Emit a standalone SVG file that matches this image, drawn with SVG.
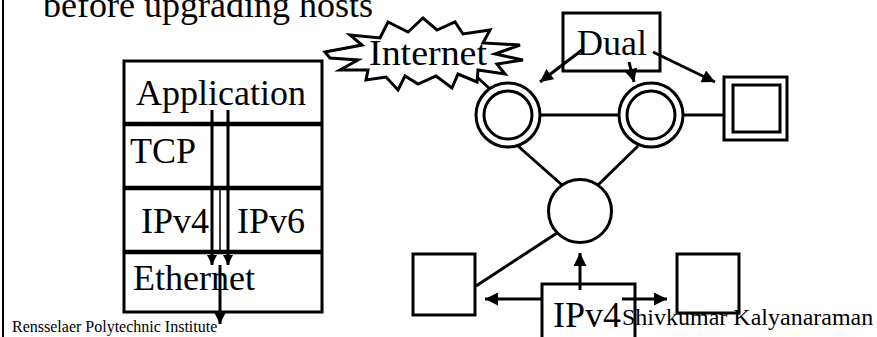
<svg xmlns="http://www.w3.org/2000/svg" width="877" height="337" viewBox="0 0 877 337">
<style>
text{font-family:"Liberation Serif","Times New Roman",serif;fill:#000}
.big{font-size:36px}
.s{fill:#fff;stroke:#000;stroke-width:3}
.ln{stroke:#000;stroke-width:3;fill:none}
.div{stroke:#000;stroke-width:4.5}
</style>
<defs>
<marker id="ah" viewBox="0 0 10 10" refX="10" refY="5" markerWidth="14" markerHeight="13" markerUnits="userSpaceOnUse" orient="auto">
<path d="M0,0 L10,5 L0,10 z" fill="#000"/>
</marker>
<marker id="ahs" viewBox="0 0 10 10" refX="10" refY="5" markerWidth="11" markerHeight="10" markerUnits="userSpaceOnUse" orient="auto">
<path d="M0,0 L10,5 L0,10 z" fill="#000"/>
</marker>
</defs>
<rect width="877" height="337" fill="#fff"/>
<line x1="3" y1="0" x2="3" y2="337" stroke="#000" stroke-width="2"/>
<text class="big" x="43" y="17">before upgrading hosts</text>

<g id="stack">
<rect class="s" x="124" y="61" width="198" height="251"/>
<line class="div" x1="124" y1="124" x2="322" y2="124"/>
<line class="div" x1="124" y1="188" x2="322" y2="188"/>
<line class="div" x1="124" y1="252" x2="322" y2="252"/>
<line x1="220" y1="188" x2="220" y2="252" stroke="#000" stroke-width="1.5"/>
<text class="big" x="136" y="105">Application</text>
<text class="big" x="130" y="163">TCP</text>
<text class="big" x="141" y="233">IPv4</text>
<text class="big" x="237" y="233">IPv6</text>
<text class="big" x="133" y="290">Ethernet</text>
</g>

<g id="internet">
<polygon class="s" points="325,52 362,45 350,35 380,38 388,22 408,32 423,18 437,30 455,22 463,34 490,30 483,43 520,45 495,54 523,60 497,64 505,74 478,70 477,82 458,74 452,88 436,76 418,84 405,76 398,90 386,77 366,80 368,70 340,70 358,60 330,58"/>
<text class="big" x="369" y="65" textLength="118" lengthAdjust="spacingAndGlyphs">Internet</text>
</g>

<g id="dual">
<rect class="s" x="563" y="13" width="97" height="58"/>
<text class="big" x="577" y="55">Dual</text>
</g>

<g id="router1">
<circle class="s" cx="508" cy="115" r="32"/>
<circle class="s" cx="508" cy="115" r="24"/>
</g>
<g id="router2">
<circle class="s" cx="651" cy="115" r="32"/>
<circle class="s" cx="651" cy="115" r="24"/>
</g>
<g id="dualhost">
<rect class="s" x="724" y="77" width="63" height="63"/>
<rect class="s" x="733" y="85" width="47" height="47"/>
</g>
<g id="router3">
<circle class="s" cx="580" cy="211" r="31.5"/>
</g>
<g id="hostL">
<rect class="s" x="413" y="254" width="62" height="61"/>
</g>
<g id="hostR">
<rect class="s" x="677" y="254" width="62" height="59"/>
</g>
<g id="ipv4">
<rect class="s" x="542" y="284" width="93" height="80"/>
<text class="big" x="553" y="327">IPv4</text>
</g>

<g id="connectors">
<line class="ln" x1="212" y1="110" x2="212" y2="265" marker-end="url(#ahs)"/>
<line class="ln" x1="228" y1="110" x2="228" y2="265" marker-end="url(#ahs)"/>
<line class="ln" x1="220" y1="265" x2="220" y2="324" marker-end="url(#ah)"/>
<line class="ln" x1="477" y1="77" x2="490" y2="89"/>
<line class="ln" x1="540" y1="115" x2="619" y2="115"/>
<line class="ln" x1="683" y1="115" x2="724" y2="115"/>
<line class="ln" x1="518" y1="146" x2="562" y2="185"/>
<line class="ln" x1="638" y1="146" x2="598" y2="185"/>
<line class="ln" x1="557" y1="233" x2="476" y2="286"/>
<line class="ln" x1="582" y1="50" x2="540" y2="82" marker-end="url(#ah)"/>
<line class="ln" x1="629" y1="62" x2="634" y2="82" marker-end="url(#ah)"/>
<line class="ln" x1="653" y1="52" x2="715" y2="82" marker-end="url(#ah)"/>
<line class="ln" x1="580" y1="290" x2="580" y2="253" marker-end="url(#ah)"/>
<line class="ln" x1="543" y1="299" x2="485" y2="299" marker-end="url(#ah)"/>
<line class="ln" x1="622" y1="299" x2="667" y2="299" marker-end="url(#ah)"/>
</g>

<text x="12" y="332" style="font-size:16px">Rensselaer Polytechnic Institute</text>
<text x="622" y="325" style="font-size:24px">Shivkumar Kalyanaraman</text>
</svg>
